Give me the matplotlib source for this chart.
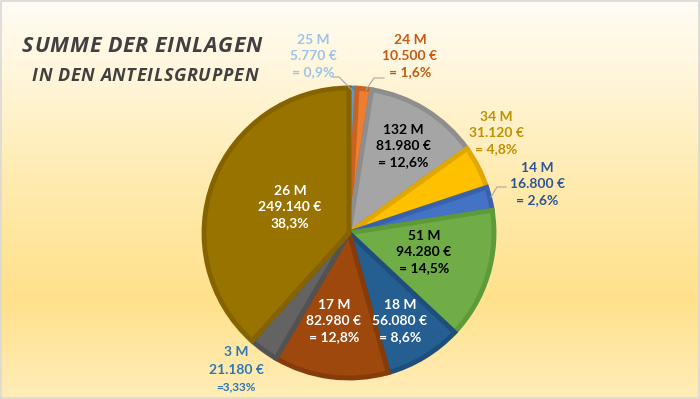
import numpy as np
import matplotlib.pyplot as plt
from matplotlib.colors import LinearSegmentedColormap

# Einlagen je Anteilsgruppe, im Uhrzeigersinn ab 12 Uhr
groups = ["25 M", "24 M", "132 M", "34 M", "14 M", "51 M", "18 M", "17 M", "3 M", "26 M"]
amounts = [5770, 10500, 81980, 31120, 16800, 94280, 56080, 82980, 21180, 249140]
shares = ["= 0,9%", "= 1,6%", "= 12,6%", "= 4,8%", "= 2,6%", "= 14,5%", "= 8,6%",
          "= 12,8%", "=3,33%", "38,3%"]
title_lines = ["SUMME DER EINLAGEN", "IN DEN ANTEILSGRUPPEN"]

fills = ["#5B9BD5", "#ED7D31", "#A5A5A5", "#FFC000", "#4472C4",
         "#70AD47", "#255E91", "#9E480E", "#636363", "#997300"]
edges = ["#4A85BD", "#C8641F", "#8E8E8E", "#E0A800", "#3A62AC",
         "#5E9A38", "#1E4F7C", "#853B0A", "#525252", "#846300"]
text_colors = ["#9DC3E6", "#C55A11", "#000000", "#BF9000", "#2F5597",
               "#000000", "#FFFFFF", "#FFFFFF", "#2E75B6", "#FFFFFF"]
# label centres in pixels (x, y from top)
label_pos = [(313, 56), (410, 56), (403, 146), (496, 133), (537, 184),
             (424, 252), (400, 321), (334, 321), (236, 370), (290, 207)]

W, H = 700, 399
fig = plt.figure(figsize=(7, 3.99), dpi=100)
ax = fig.add_axes([0, 0, 1, 1])

# background gradient
bg = LinearSegmentedColormap.from_list(
    "bg", [(0, "#FFEDB8"), (0.25, "#FFE18C"), (0.55, "#FFEBB0"), (0.85, "#FFF7E0"), (1, "#FFFCF4")])
grad = np.linspace(0, 1, 256).reshape(-1, 1)
ax.imshow(grad, cmap=bg, extent=[0, W, 0, H], origin="lower", aspect="auto", zorder=0)
ax.plot([1, W - 1, W - 1, 1, 1], [1, 1, H - 1, H - 1, 1], color="#D9D9D9", lw=1.2, zorder=5)

cx, cy, r = 349, H - 233, 145
wedges, _ = ax.pie(amounts, colors=fills, startangle=90, counterclock=False,
                   center=(cx, cy), radius=r, frame=True,
                   wedgeprops=dict(linewidth=3.5))
for w, ec in zip(wedges, edges):
    w.set_edgecolor(ec)
    w.set_zorder(2)
ax.set_xlim(0, W)
ax.set_ylim(0, H)
ax.set_aspect("equal")
ax.axis("off")

# leader lines
leaders = [([332, 339, 352], [77, 77, 90]), ([384, 374, 366], [78, 78, 90]),
           ([491, 497, 506], [197, 187, 187])]
for xs, ys in leaders:
    ax.plot(xs, [H - y for y in ys], color="#A6A6A6", lw=0.8, zorder=3)

lab = dict(ha="center", va="center", fontweight="bold", family="Lato", zorder=4)
for i, g in enumerate(groups):
    amt = f"{amounts[i]:,}".replace(",", ".") + " €"
    x, y = label_pos[i]
    if i == 8:
        ax.text(x, H - 352, g, fontsize=10, color=text_colors[i], **lab)
        ax.text(x, H - 370, amt, fontsize=10, color=text_colors[i], **lab)
        ax.text(x, H - 387, shares[i], fontsize=8.5, color=text_colors[i], **lab)
        continue
    ax.text(x, H - y, f"{g}\n{amt}\n{shares[i]}", fontsize=10,
            color=text_colors[i], linespacing=1.38, **lab)


def spaced_text(x0, x1, y, s, size):
    # title with wide letter spacing, stretched to span x0..x1
    renderer = fig.canvas.get_renderer()
    kw = dict(ha="left", va="center", fontsize=size, fontweight="bold",
              fontstyle="italic", color="#404040", family="Open Sans", zorder=4)
    chars = []
    total = 0
    for ch in s:
        t = ax.text(0, y, ch, **kw)
        wd = t.get_window_extent(renderer).width if ch != " " else size * 0.3
        chars.append((t, wd))
        total += wd
    gap = (x1 - x0 - total) / (len(s) - 1)
    x = x0
    for t, wd in chars:
        t.set_x(x)
        x += wd + gap


spaced_text(22, 262, H - 47, title_lines[0], 15.5)
spaced_text(32, 258, H - 76, title_lines[1], 13)

fig.savefig("out.png", dpi=100)
